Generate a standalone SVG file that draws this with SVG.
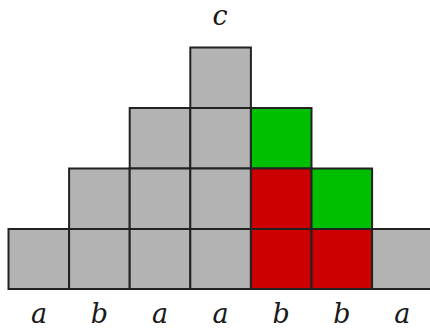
<svg xmlns="http://www.w3.org/2000/svg" width="430" height="329" viewBox="0 0 430 329">
<style>
.c{stroke:#222;stroke-width:2}
.g{fill:#b3b3b3}
.gr{fill:#00bf00}
.r{fill:#cc0000}
text{font-family:"DejaVu Serif","Liberation Serif",serif;font-style:italic;font-size:27px;fill:#1a1a1a;text-anchor:middle}
</style>
<rect width="430" height="329" fill="#fff"/>
<g id="cells">
<rect id="r0c3" class="c g" x="190.3" y="47.5" width="60.6" height="60.5"/>
<rect id="r1c2" class="c g" x="129.7" y="108" width="60.6" height="60.5"/>
<rect id="r1c3" class="c g" x="190.3" y="108" width="60.6" height="60.5"/>
<rect id="r1c4" class="c gr" x="250.9" y="108" width="60.6" height="60.5"/>
<rect id="r2c1" class="c g" x="69.1" y="168.5" width="60.6" height="60.5"/>
<rect id="r2c2" class="c g" x="129.7" y="168.5" width="60.6" height="60.5"/>
<rect id="r2c3" class="c g" x="190.3" y="168.5" width="60.6" height="60.5"/>
<rect id="r2c4" class="c r" x="250.9" y="168.5" width="60.6" height="60.5"/>
<rect id="r2c5" class="c gr" x="311.5" y="168.5" width="60.6" height="60.5"/>
<rect id="r3c0" class="c g" x="8.5" y="229" width="60.6" height="60"/>
<rect id="r3c1" class="c g" x="69.1" y="229" width="60.6" height="60"/>
<rect id="r3c2" class="c g" x="129.7" y="229" width="60.6" height="60"/>
<rect id="r3c3" class="c g" x="190.3" y="229" width="60.6" height="60"/>
<rect id="r3c4" class="c r" x="250.9" y="229" width="60.6" height="60"/>
<rect id="r3c5" class="c r" x="311.5" y="229" width="60.6" height="60"/>
<rect id="r3c6" class="c g" x="372.1" y="229" width="60.6" height="60"/>
</g>
<g id="labels">
<text x="220" y="25">c</text>
<text x="39" y="323">a</text>
<text x="99.4" y="323">b</text>
<text x="160" y="323">a</text>
<text x="220.6" y="323">a</text>
<text x="281.2" y="323">b</text>
<text x="341.8" y="323">b</text>
<text x="402.4" y="323">a</text>
</g>
</svg>
